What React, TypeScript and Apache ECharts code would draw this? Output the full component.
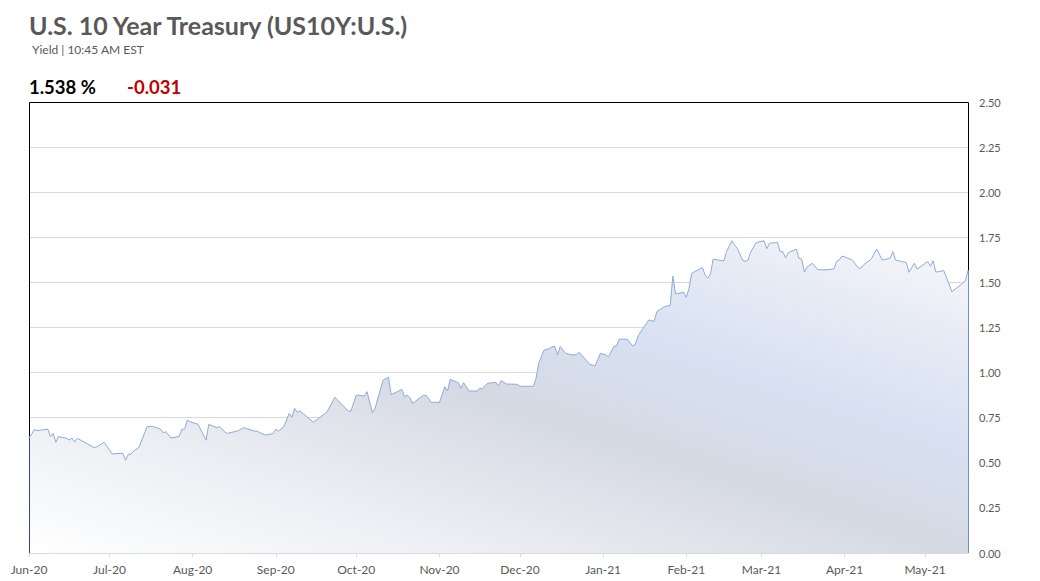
import React, { useEffect, useRef } from "react";
import * as echarts from "echarts";

// ---- data ----
const dates: string[] = [
  "2020-06-01","2020-06-02","2020-06-03","2020-06-04","2020-06-08","2020-06-09","2020-06-10","2020-06-11","2020-06-12","2020-06-15","2020-06-16","2020-06-17","2020-06-18","2020-06-19","2020-06-25","2020-06-26","2020-06-29",
  "2020-07-02","2020-07-06","2020-07-07","2020-07-08","2020-07-09","2020-07-10","2020-07-12","2020-07-15","2020-07-17","2020-07-20","2020-07-21","2020-07-22","2020-07-24","2020-07-27","2020-07-28","2020-07-29","2020-07-30","2020-07-31",
  "2020-08-03","2020-08-06","2020-08-07","2020-08-10","2020-08-11","2020-08-13","2020-08-14","2020-08-18","2020-08-20","2020-08-24","2020-08-25","2020-08-28","2020-08-31",
  "2020-09-01","2020-09-02","2020-09-04","2020-09-06","2020-09-07","2020-09-08","2020-09-09","2020-09-10","2020-09-15","2020-09-17","2020-09-20","2020-09-23","2020-09-28","2020-09-29",
  "2020-10-01","2020-10-04","2020-10-05","2020-10-07","2020-10-08","2020-10-11","2020-10-13","2020-10-14","2020-10-16","2020-10-18","2020-10-19","2020-10-20","2020-10-21","2020-10-22","2020-10-26","2020-10-27","2020-10-29",
  "2020-11-01","2020-11-03","2020-11-04","2020-11-05","2020-11-08","2020-11-09","2020-11-10","2020-11-12","2020-11-15","2020-11-16","2020-11-17","2020-11-19","2020-11-22","2020-11-23","2020-11-24","2020-11-26","2020-11-30",
  "2020-12-01","2020-12-06","2020-12-07","2020-12-08","2020-12-10","2020-12-12","2020-12-13","2020-12-14","2020-12-15","2020-12-16","2020-12-18","2020-12-20","2020-12-22","2020-12-23","2020-12-27","2020-12-28","2020-12-29","2020-12-31",
  "2021-01-02","2021-01-03","2021-01-05","2021-01-06","2021-01-07","2021-01-10","2021-01-12","2021-01-13","2021-01-14","2021-01-18","2021-01-20","2021-01-21","2021-01-24","2021-01-26","2021-01-27","2021-01-28","2021-01-31",
  "2021-02-01","2021-02-02","2021-02-03","2021-02-07","2021-02-08","2021-02-09","2021-02-10","2021-02-11","2021-02-13","2021-02-15","2021-02-16","2021-02-18","2021-02-19","2021-02-20","2021-02-22","2021-02-23","2021-02-24","2021-02-25","2021-02-27",
  "2021-03-02","2021-03-03","2021-03-04","2021-03-07","2021-03-08","2021-03-09","2021-03-10","2021-03-11","2021-03-14","2021-03-15","2021-03-16","2021-03-17","2021-03-18","2021-03-20","2021-03-22","2021-03-24","2021-03-28","2021-03-29","2021-03-30","2021-03-31",
  "2021-04-01","2021-04-04","2021-04-06","2021-04-07","2021-04-08","2021-04-11","2021-04-13","2021-04-15","2021-04-18","2021-04-19","2021-04-20","2021-04-24","2021-04-25","2021-04-27","2021-04-28",
  "2021-05-02","2021-05-03","2021-05-04","2021-05-05","2021-05-08","2021-05-11","2021-05-14","2021-05-16","2021-05-17",
];

const yields: number[] = [
  0.639,0.658,0.686,0.678,0.687,0.645,0.663,0.614,0.645,0.636,0.626,0.637,0.615,0.636,0.586,0.586,0.614,
  0.549,0.553,0.514,0.547,0.547,0.565,0.586,0.700,0.702,0.687,0.667,0.672,0.637,0.647,0.686,0.687,0.736,0.728,
  0.713,0.626,0.713,0.695,0.700,0.671,0.663,0.678,0.695,0.676,0.675,0.654,0.662,
  0.686,0.676,0.700,0.774,0.752,0.802,0.780,0.787,0.725,0.747,0.780,0.863,0.787,0.787,
  0.876,0.870,0.894,0.778,0.802,0.959,0.974,0.878,0.892,0.907,0.866,0.876,0.861,0.830,0.874,0.874,0.835,
  0.835,0.922,0.898,0.963,0.944,0.913,0.944,0.898,0.898,0.913,0.913,0.941,0.946,0.927,0.955,0.937,0.935,
  0.924,0.924,0.968,1.052,1.125,1.133,1.144,1.144,1.098,1.144,1.107,1.099,1.098,1.113,1.046,1.042,1.037,1.107,
  1.098,1.087,1.146,1.148,1.185,1.185,1.148,1.157,1.203,1.292,1.284,1.338,1.367,1.371,1.535,1.436,1.445,
  1.417,1.465,1.550,1.583,1.541,1.523,1.545,1.629,1.624,1.619,1.670,1.731,1.707,1.689,1.622,1.617,1.624,1.668,1.720,
  1.731,1.687,1.717,1.721,1.670,1.670,1.636,1.665,1.684,1.634,1.630,1.557,1.585,1.606,1.571,1.569,1.574,1.617,1.624,1.646,
  1.642,1.622,1.581,1.578,1.596,1.631,1.684,1.624,1.634,1.670,1.624,1.609,1.556,1.606,1.574,
  1.615,1.589,1.620,1.557,1.565,1.448,1.483,1.508,1.566,
];

const axisStart = "2020-06-01";
const axisEnd = "2021-05-17";
const monthNames = ["Jan","Feb","Mar","Apr","May","Jun","Jul","Aug","Sep","Oct","Nov","Dec"];
const yMin = 0;
const yMax = 2.5;
const yStep = 0.25;

const titleText = "U.S. 10 Year Treasury (US10Y:U.S.)";
const subtitleText = "Yield | 10:45 AM EST";
const lastValueText = "1.538 %";
const changeText = "-0.031";

// ---- layout ----
const W = 1040;
const H = 581;
const G = { left: 29, right: 72, top: 102, bottom: 28 };
const FONT = "Lato, 'Open Sans', sans-serif";

function toTs(s: string): number {
  const [y, m, d] = s.split("-").map(Number);
  return new Date(y, m - 1, d).getTime();
}

export default function App() {
  const ref = useRef<HTMLDivElement>(null);

  useEffect(() => {
    document.body.style.margin = "0";
    if (!ref.current) return;
    const chart = echarts.init(ref.current, null, { renderer: "svg" });
    const DAY = 86400000;
    const seriesData = dates.map((d, i) => [toTs(d), yields[i]]);
    const L = G.left, R = W - G.right, T = G.top, B = H - G.bottom;

    chart.setOption({
      animation: false,
      grid: { left: G.left, right: G.right, top: G.top, bottom: G.bottom, outerBoundsMode: "none", containLabel: false },
      xAxis: {
        type: "time",
        min: toTs(axisStart),
        max: toTs(axisEnd),
        minInterval: 28 * DAY,
        maxInterval: 31 * DAY,
        axisLine: { show: true, lineStyle: { color: "#d9d9d9", width: 1 } },
        axisTick: { show: true, length: 4, lineStyle: { color: "#d9d9d9" } },
        axisLabel: {
          color: "#595959",
          fontSize: 12,
          fontFamily: FONT,
          margin: 10,
          hideOverlap: false,
          formatter: (v: number) => {
            const d = new Date(v);
            return `${monthNames[d.getMonth()]}-${String(d.getFullYear()).slice(2)}`;
          },
        },
        splitLine: { show: false },
      },
      yAxis: {
        type: "value",
        position: "right",
        min: yMin,
        max: yMax,
        interval: yStep,
        axisLine: { show: false },
        axisTick: { show: false },
        axisLabel: {
          color: "#595959",
          fontSize: 11,
          fontFamily: FONT,
          margin: 11,
          formatter: (v: number) => v.toFixed(2),
        },
        splitLine: { show: true, lineStyle: { color: "#d9d9d9", width: 1 } },
      },
      series: [
        {
          type: "line",
          data: seriesData,
          symbol: "none",
          lineStyle: { color: "#8faadc", width: 1 },
          areaStyle: {
            opacity: 1,
            color: new echarts.graphic.LinearGradient(
              L, B, L + 181, 0,
              [
                { offset: 0, color: "#ffffff" },
                { offset: 0.25, color: "#eceef3" },
                { offset: 0.5, color: "#d5d9e3" },
                { offset: 0.68, color: "#d8e1f2" },
                { offset: 0.85, color: "#e7ebf5" },
                { offset: 1, color: "#f8f9fb" },
              ],
              true
            ),
          },
          z: 3,
        },
      ],
      graphic: {
        elements: [
          {
            id: "frame",
            type: "polyline",
            z: 1,
            shape: { points: [[L + 0.5, B], [L + 0.5, T + 0.5], [R + 0.5, T + 0.5], [R + 0.5, B]] },
            style: { stroke: "#000000", lineWidth: 1, fill: null },
          },
          {
            id: "title",
            type: "text",
            x: 29,
            y: 12,
            style: { text: titleText, font: `bold 25px ${FONT}`, fill: "#595959" },
          },
          {
            id: "subtitle",
            type: "text",
            x: 32,
            y: 43,
            style: { text: subtitleText, font: `12px ${FONT}`, fill: "#595959" },
          },
          {
            id: "lastValue",
            type: "text",
            x: 29,
            y: 77,
            style: { text: lastValueText, font: `bold 18.5px ${FONT}`, fill: "#000000" },
          },
          {
            id: "change",
            type: "text",
            x: 127,
            y: 77,
            style: { text: changeText, font: `bold 18.5px ${FONT}`, fill: "#c00000" },
          },
        ],
      },
    });

    // side edges of the filled area, placed through the chart's own scales
    const first = chart.convertToPixel({ gridIndex: 0 }, seriesData[0]) as number[];
    const last = chart.convertToPixel({ gridIndex: 0 }, seriesData[seriesData.length - 1]) as number[];
    chart.setOption({
      graphic: {
        elements: [
          {
            id: "edgeLeft",
            type: "line",
            z: 10,
            shape: { x1: L + 0.5, y1: first[1], x2: L + 0.5, y2: B },
            style: { stroke: "#2f4a7a", lineWidth: 1 },
          },
          {
            id: "edgeRight",
            type: "line",
            z: 10,
            shape: { x1: R + 0.5, y1: last[1], x2: R + 0.5, y2: B },
            style: { stroke: "#7390c4", lineWidth: 1 },
          },
        ],
      },
    });

    return () => chart.dispose();
  }, []);

  return <div ref={ref} style={{ width: W, height: H }} />;
}
